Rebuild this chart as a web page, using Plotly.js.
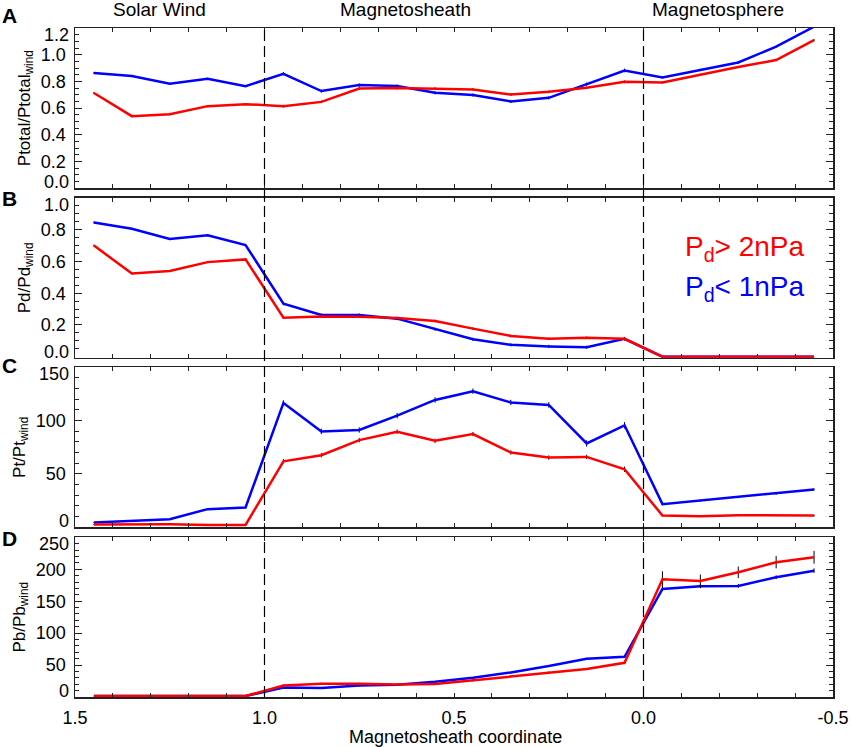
<!DOCTYPE html>
<html>
<head>
<meta charset="utf-8">
<script src="https://cdn.plot.ly/plotly-3.0.1.min.js"></script>
<style>
html,body{margin:0;padding:0;background:#fff;}
#chart{width:851px;height:747px;}
</style>
</head>
<body>
<div id="chart"></div>
<script>
// Magnetosheath coordinate of each bin
const coord = [1.45,1.35,1.25,1.15,1.05,0.95,0.85,0.75,0.65,0.55,0.45,0.35,0.25,0.15,0.05,-0.05,-0.15,-0.25,-0.35,-0.45];

// Panel A: Ptotal/Ptotal_wind
const ptotHigh = [0.713,0.54,0.555,0.615,0.63,0.615,0.647,0.747,0.75,0.747,0.74,0.702,0.722,0.752,0.797,0.792,0.85,0.908,0.96,1.11];
const ptotLow  = [0.863,0.84,0.782,0.82,0.765,0.857,0.728,0.773,0.765,0.715,0.698,0.65,0.677,0.78,0.882,0.83,0.887,0.942,1.06,1.21];
const ptotHighErr = [0.008,0.008,0.008,0.008,0.008,0.01,0.01,0.01,0.01,0.01,0.01,0.01,0.01,0.01,0.01,0.008,0.008,0.008,0.008,0.008];
const ptotLowErr  = [0.008,0.008,0.008,0.008,0.008,0.012,0.012,0.012,0.012,0.012,0.012,0.012,0.012,0.012,0.014,0.008,0.008,0.008,0.008,0.008];

// Panel B: Pd/Pd_wind
const pdHigh = [0.7,0.525,0.54,0.596,0.613,0.246,0.254,0.252,0.244,0.225,0.177,0.131,0.113,0.119,0.113,0,0,0,0,0];
const pdLow  = [0.846,0.806,0.742,0.765,0.704,0.334,0.263,0.263,0.24,0.173,0.11,0.075,0.065,0.06,0.113,0,0,0,0,0];
const pdHighErr = [0.006,0.006,0.006,0.006,0.006,0.008,0.008,0.008,0.008,0.008,0.008,0.008,0.008,0.008,0.008,0,0,0,0,0];
const pdLowErr  = [0.006,0.006,0.006,0.006,0.006,0.01,0.01,0.01,0.01,0.01,0.01,0.01,0.01,0.01,0.012,0,0,0,0,0];

// Panel C: Pt/Pt_wind
const ptHigh = [2.5,2.8,2.8,2.2,2.2,61.9,67.6,81.7,89.6,81.1,87.4,70.1,65.4,66,54.4,11,10.3,11.3,11.3,11];
const ptLow  = [4.4,5.6,7.5,17,18.5,116.6,89.9,91.2,104.7,119.4,127.6,117,114.7,78.6,95.6,21.7,25.1,28.3,31.4,35.5];
const ptHighErr = [0.5,0.5,0.5,0.5,0.5,2,2,2,2,2,2,2,2,2,2.5,0.8,0.8,0.8,0.8,0.8];
const ptLowErr  = [0.5,0.5,0.5,0.8,0.8,2.5,2.5,2.5,2.5,2.5,2.5,2.5,2.5,3,3,1,1,1,1,1];

// Panel D: Pb/Pb_wind
const pbHigh = [1.5,1.5,1.5,2,1.5,18,20.8,20.8,19.7,20.3,26,32.2,38.5,43.7,53.6,184.3,181.7,195.3,211,218.7];
const pbLow  = [1.5,1.5,1.5,1.5,1.5,15,14,18,19.2,23.9,30,38.5,48.4,59.8,63,169.2,173.4,173.9,187.5,197.8];
const pbHighErr = [0.3,0.3,0.3,0.3,0.3,1.5,1.5,1.5,1.5,1.5,1.5,1.5,1.5,1.5,2,12.5,10,9,9.6,10];
const pbLowErr  = [0.3,0.3,0.3,0.3,0.3,1.2,1.2,1.2,1.2,1.2,1.2,1.2,1.2,1.5,1.5,3,3,3,3,3.6];

// Tick labels
const xTickVals = [1.5,1.0,0.5,0.0,-0.5];
const xTickText = ['1.5','1.0','0.5','0.0','-0.5'];
const aTicks = [0.2,0.4,0.6,0.8,1.0], aText = ['0.2','0.4','0.6','0.8','1.0'], aEdge = ['0.0','1.2'];
const bTicks = [0.2,0.4,0.6,0.8],     bText = ['0.2','0.4','0.6','0.8'],     bEdge = ['0.0','1.0'];
const cTicks = [50,100],              cText = ['50','100'],                  cEdge = ['0','150'];
const dTicks = [50,100,150,200],      dText = ['50','100','150','200'],      dEdge = ['0','250'];

const RED = '#ff0000', BLUE = '#0000ff';
const FONT = 'Liberation Sans, Arial, Helvetica, sans-serif';

function tr(y, err, color, xa, ya) {
  return {
    x: coord, y: y, type: 'scatter', mode: 'lines',
    line: {color: color, width: 2.5},
    error_y: {type: 'data', array: err, visible: true, color: '#000', thickness: 1, width: 0},
    xaxis: xa, yaxis: ya, showlegend: false, hoverinfo: 'skip'
  };
}

const data = [
  tr(ptotLow, ptotLowErr, BLUE, 'x', 'y'),
  tr(ptotHigh, ptotHighErr, RED, 'x', 'y'),
  tr(pdLow, pdLowErr, BLUE, 'x2', 'y2'),
  tr(pdHigh, pdHighErr, RED, 'x2', 'y2'),
  tr(ptLow, ptLowErr, BLUE, 'x3', 'y3'),
  tr(ptHigh, ptHighErr, RED, 'x3', 'y3'),
  tr(pbLow, pbLowErr, BLUE, 'x4', 'y4'),
  tr(pbHigh, pbHighErr, RED, 'x4', 'y4')
];

const LINEC = '#222';
function xax(anchor, labels) {
  return {
    anchor: anchor, range: [1.5, -0.5], autorange: false,
    showline: true, linecolor: LINEC, linewidth: 1.5, mirror: 'allticks',
    ticks: 'inside', ticklen: 4, tickwidth: 1, tickcolor: LINEC,
    tickmode: 'array', tickvals: xTickVals, ticktext: xTickText,
    showticklabels: labels,
    minor: {dtick: 0.1, tick0: 0, ticks: 'inside', ticklen: 4, tickwidth: 1, tickcolor: LINEC, showgrid: false},
    showgrid: false, zeroline: false,
    tickfont: {family: FONT, size: 18, color: '#000'},
    ticklabelstandoff: 4
  };
}
function yax(anchor, dom, range, tv, tt, minorD, title) {
  return {
    anchor: anchor, domain: dom, range: range, autorange: false,
    showline: true, linecolor: LINEC, linewidth: 1.5, mirror: 'allticks',
    ticks: 'inside', ticklen: 7, tickwidth: 1, tickcolor: LINEC,
    tickmode: 'array', tickvals: tv, ticktext: tt,
    minor: {dtick: minorD, tick0: 0, ticks: 'inside', ticklen: 4, tickwidth: 1, tickcolor: LINEC, showgrid: false},
    showgrid: false, zeroline: false,
    tickfont: {family: FONT, size: 18, color: '#000'},
    ticklabelstandoff: 4,
    title: {text: title, font: {family: FONT, size: 17, color: '#000'}, standoff: 6}
  };
}

const domA = [0.7604, 1.0], domB = [0.5072, 0.7459], domC = [0.2537, 0.4928], domD = [0.0, 0.2387];

const annotations = [];
function edge(yref, txt) {
  annotations.push({xref: 'paper', yref: yref + ' domain', x: 0, y: 0, xanchor: 'right', yanchor: 'bottom',
    xshift: -4, yshift: -6, text: txt[0], showarrow: false, font: {family: FONT, size: 18, color: '#000'}});
  annotations.push({xref: 'paper', yref: yref + ' domain', x: 0, y: 1, xanchor: 'right', yanchor: 'top',
    xshift: -4, yshift: 5, text: txt[1], showarrow: false, font: {family: FONT, size: 18, color: '#000'}});
}
edge('y', aEdge); edge('y2', bEdge); edge('y3', cEdge); edge('y4', dEdge);

// Panel letters
const letters = [['A', 16], ['B', 199], ['C', 365], ['D', 538.5]];
letters.forEach(function (l) {
  annotations.push({xref: 'paper', yref: 'paper', x: (9.5 - 75) / 758, y: (697 - l[1]) / 669,
    xanchor: 'center', yanchor: 'middle', text: '<b>' + l[0] + '</b>', showarrow: false,
    font: {family: FONT, size: 21, color: '#000'}});
});

// Region headers
const regions = [['Solar Wind', 159], ['Magnetosheath', 405], ['Magnetosphere', 717.5]];
regions.forEach(function (r) {
  annotations.push({xref: 'paper', yref: 'paper', x: (r[1] - 75) / 758, y: (697 - 10) / 669,
    xanchor: 'center', yanchor: 'middle', text: r[0], showarrow: false,
    font: {family: FONT, size: 19, color: '#000'}});
});

// X-axis title
annotations.push({xref: 'paper', yref: 'paper', x: (455 - 75) / 758, y: (697 - 747) / 669,
  xanchor: 'center', yanchor: 'bottom', yshift: -2, text: 'Magnetosheath coordinate', showarrow: false,
  font: {family: FONT, size: 18, color: '#000'}});

// Legend text
annotations.push({xref: 'paper', yref: 'paper', x: (683 - 75) / 758, y: (697 - 248) / 669,
  xanchor: 'left', yanchor: 'middle', text: 'P<sub>d</sub>> 2nPa', showarrow: false,
  font: {family: FONT, size: 28, color: RED}});
annotations.push({xref: 'paper', yref: 'paper', x: (683 - 75) / 758, y: (697 - 288) / 669,
  xanchor: 'left', yanchor: 'middle', text: 'P<sub>d</sub>< 1nPa', showarrow: false,
  font: {family: FONT, size: 28, color: BLUE}});

const dashLines = [1.0, 0.0];
const shapes = dashLines.map(function (v) {
  return {type: 'line', xref: 'x4', yref: 'paper', x0: v, x1: v, y0: 0, y1: 1,
    line: {color: '#000', width: 1.2, dash: '11px,5px'}, layer: 'above'};
});

const layout = {
  width: 851, height: 747,
  margin: {l: 75, r: 18, t: 28, b: 50, pad: 0},
  paper_bgcolor: '#fff', plot_bgcolor: '#fff',
  font: {family: FONT, color: '#000'},
  showlegend: false,
  xaxis: xax('y', false),
  xaxis2: xax('y2', false),
  xaxis3: xax('y3', false),
  xaxis4: xax('y4', true),
  yaxis: yax('x', domA, [0, 1.2], aTicks, aText, 0.05, 'Ptotal/Ptotal<sub>wind</sub>'),
  yaxis2: yax('x2', domB, [-0.006, 1.0], bTicks, bText, 0.05, 'Pd/Pd<sub>wind</sub>'),
  yaxis3: yax('x3', domC, [0, 150], cTicks, cText, 10, 'Pt/Pt<sub>wind</sub>'),
  yaxis4: yax('x4', domD, [0, 250], dTicks, dText, 10, 'Pb/Pb<sub>wind</sub>'),
  annotations: annotations,
  shapes: shapes
};

Plotly.newPlot('chart', data, layout, {staticPlot: true, displayModeBar: false});
</script>
</body>
</html>
